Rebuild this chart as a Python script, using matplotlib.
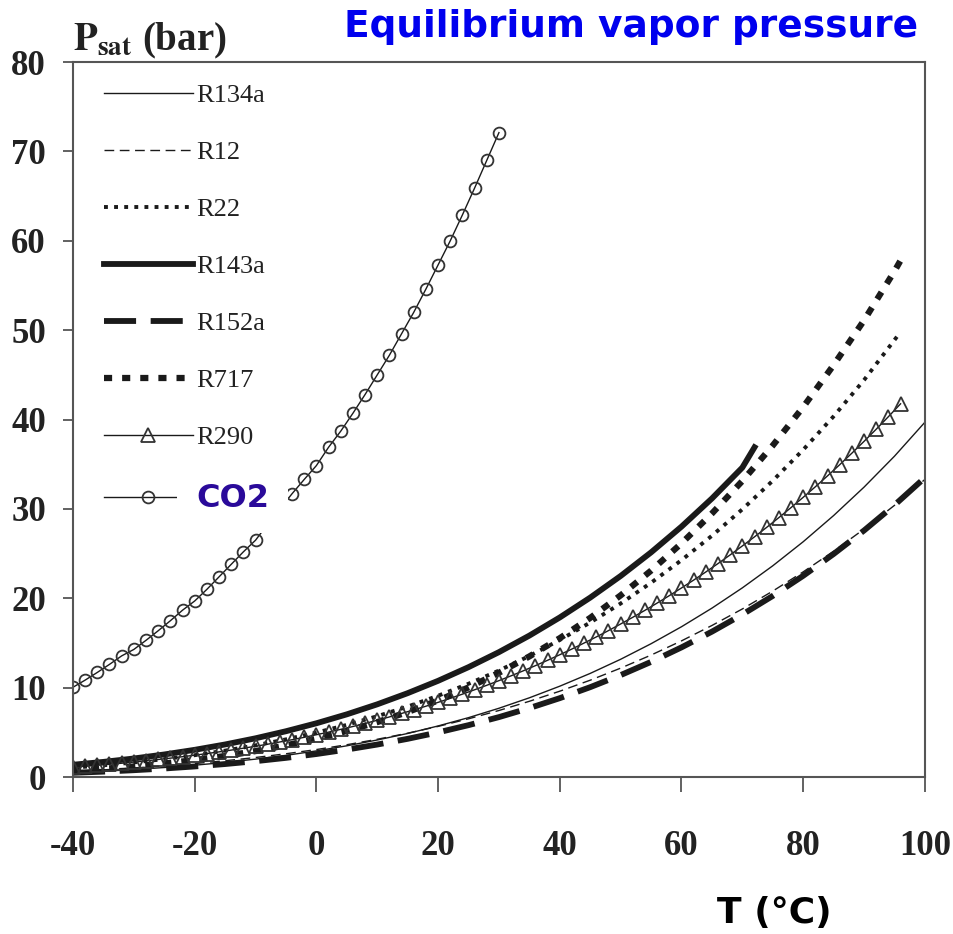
import matplotlib
matplotlib.use('Agg')
import matplotlib.pyplot as plt

# saturation pressure (bar)
T5 = [-40, -35, -30, -25, -20, -15, -10, -5, 0, 5, 10, 15, 20, 25, 30, 35, 40,
      45, 50, 55, 60, 65, 70, 75, 80, 85, 90, 95, 100]
r134a = [0.51, 0.66, 0.84, 1.07, 1.33, 1.64, 2.01, 2.43, 2.93, 3.50, 4.15, 4.88, 5.72,
         6.65, 7.70, 8.87, 10.17, 11.60, 13.18, 14.92, 16.82, 18.90, 21.17, 23.64,
         26.33, 29.26, 32.44, 35.9, 39.7]
r12 = [0.64, 0.81, 1.00, 1.24, 1.51, 1.83, 2.19, 2.61, 3.08, 3.62, 4.23, 4.91, 5.67,
       6.52, 7.45, 8.48, 9.61, 10.84, 12.19, 13.65, 15.24, 16.96, 18.81, 20.81, 22.96,
       25.27, 27.75, 30.4, 33.3]
r152a = [0.48, 0.61, 0.77, 0.96, 1.19, 1.46, 1.78, 2.15, 2.58, 3.08, 3.64, 4.28, 5.00,
         5.81, 6.71, 7.72, 8.83, 10.06, 11.41, 12.89, 14.51, 16.27, 18.19, 20.27, 22.52,
         24.96, 27.59, 30.43, 33.5]

T_r22 = [-40, -35, -30, -25, -20, -15, -10, -5, 0, 5, 10, 15, 20, 25, 30, 35, 40,
         45, 50, 55, 60, 65, 70, 75, 80, 85, 90, 95, 96]
r22 = [1.05, 1.32, 1.64, 2.01, 2.45, 2.96, 3.55, 4.22, 4.98, 5.84, 6.81, 7.89, 9.10,
       10.44, 11.92, 13.55, 15.34, 17.29, 19.42, 21.74, 24.27, 27.00, 29.96, 33.16,
       36.62, 40.36, 44.42, 48.9, 49.8]
r717 = [0.72, 0.93, 1.19, 1.52, 1.90, 2.36, 2.91, 3.55, 4.29, 5.16, 6.15, 7.28, 8.57,
        10.03, 11.67, 13.50, 15.54, 17.81, 20.33, 23.10, 26.15, 29.49, 33.13, 37.1,
        41.4, 46.1, 51.1, 56.6, 57.8]

T_r143a = [-40, -35, -30, -25, -20, -15, -10, -5, 0, 5, 10, 15, 20, 25, 30, 35, 40,
           45, 50, 55, 60, 65, 70, 72]
r143a = [1.38, 1.70, 2.08, 2.53, 3.05, 3.65, 4.34, 5.13, 6.02, 7.02, 8.14, 9.39, 10.77,
         12.30, 13.98, 15.83, 17.86, 20.08, 22.50, 25.14, 28.02, 31.17, 34.63, 36.9]

T_r290 = [-40, -38, -36, -34, -32, -30, -28, -26, -24, -22, -20, -18, -16, -14, -12,
          -10, -8, -6, -4, -2, 0, 2, 4, 6, 8, 10, 12, 14, 16, 18, 20, 22, 24, 26, 28,
          30, 32, 34, 36, 38, 40, 42, 44, 46, 48, 50, 52, 54, 56, 58, 60, 62, 64, 66,
          68, 70, 72, 74, 76, 78, 80, 82, 84, 86, 88, 90, 92, 94, 96]
r290 = [1.11, 1.21, 1.32, 1.43, 1.55, 1.68, 1.82, 1.97, 2.12, 2.28, 2.45, 2.63, 2.82,
        3.02, 3.23, 3.45, 3.68, 3.93, 4.18, 4.45, 4.74, 5.03, 5.34, 5.66, 6.00, 6.36,
        6.73, 7.12, 7.52, 7.93, 8.36, 8.81, 9.28, 9.77, 10.27, 10.79, 11.33, 11.89,
        12.47, 13.07, 13.69, 14.33, 15.0, 15.68, 16.39, 17.13, 17.88, 18.66, 19.47,
        20.3, 21.16, 22.04, 22.95, 23.89, 24.86, 25.86, 26.88, 27.94, 29.03, 30.15,
        31.3, 32.48, 33.7, 34.95, 36.24, 37.56, 38.92, 40.32, 41.76]

T_co2 = [-40, -38, -36, -34, -32, -30, -28, -26, -24, -22, -20, -18, -16, -14, -12,
         -10, -8, -6, -4, -2, 0, 2, 4, 6, 8, 10, 12, 14, 16, 18, 20, 22, 24, 26, 28, 30]
co2 = [10.05, 10.85, 11.71, 12.61, 13.56, 14.28, 15.30, 16.37, 17.49, 18.67, 19.70,
       21.0, 22.4, 23.8, 25.2, 26.5, 28.3, 30.0, 31.7, 33.3, 34.85, 36.9, 38.7, 40.7,
       42.8, 45.0, 47.2, 49.6, 52.0, 54.6, 57.3, 60.0, 62.9, 65.9, 69.0, 72.1]

x_ticks = [-40, -20, 0, 20, 40, 60, 80, 100]
y_ticks = [0, 10, 20, 30, 40, 50, 60, 70, 80]

plt.rcParams['mathtext.fontset'] = 'stix'
plt.rcParams['axes.unicode_minus'] = False

fig = plt.figure(figsize=(9.54, 9.34), dpi=100)
ax = fig.add_axes([0.0765, 0.168, 0.893, 0.7656])

ink = '#1a1a1a'
ax.plot(T5, r134a, color=ink, lw=1.0, label='R134a')
ax.plot(T5, r12, color=ink, lw=1.0, ls=(0, (7, 4)), label='R12')
ax.plot(T_r22, r22, color=ink, lw=2.8, ls=(0, (1, 1.6)), label='R22')
ax.plot(T_r143a, r143a, color=ink, lw=4.2, label='R143a')
ax.plot(T5, r152a, color=ink, lw=4.2, ls=(0, (5.5, 2.5)), label='R152a')
ax.plot(T_r22, r717, color=ink, lw=4.5, ls=(0, (1.3, 1.6)), label='R717')
ax.plot(T_r290, r290, color=ink, lw=1.0, marker='^', ms=10, mfc='none',
        mec='#333333', mew=1.3, label='R290')
ax.plot(T_co2, co2, color=ink, lw=1.0, marker='o', ms=8.5, mfc='none',
        mec='#333333', mew=1.3, label='CO2')

ax.set_xlim(-40, 100)
ax.set_ylim(0, 80)
ax.set_xticks(x_ticks)
ax.set_yticks(y_ticks)
for s in ax.spines.values():
    s.set_color('#555555')
    s.set_linewidth(1.5)
ax.tick_params(axis='x', direction='out', length=11, width=1.3, color='#555555',
               pad=27, labelsize=25)
ax.tick_params(axis='y', direction='out', length=7.5, width=1.3, color='#555555',
               pad=12, labelsize=25)
for lab in ax.get_xticklabels() + ax.get_yticklabels():
    lab.set_family('Liberation Serif')
    lab.set_fontweight('bold')
    lab.set_color('#222222')

leg = ax.legend(loc='upper left', bbox_to_anchor=(0.008, 1.003), frameon=False,
                handlelength=3.4, handletextpad=0.1, labelspacing=1.27,
                numpoints=1, prop={'family': 'Liberation Serif', 'size': 19})
for t in leg.get_texts():
    t.set_color('#222222')
co2_txt = leg.get_texts()[-1]
co2_txt.set_family('DejaVu Sans')
co2_txt.set_fontweight('bold')
co2_txt.set_fontsize(23)
co2_txt.set_color('#2a0a9a')
co2_txt.set_bbox(dict(facecolor='white', edgecolor='none', boxstyle='square,pad=0.6'))

fig.text(73 / 954, 1 - 50 / 934, r'$\mathbf{P}_{\mathbf{sat}}$ (bar)',
         family='Liberation Serif', fontweight='bold', fontsize=28,
         color='#222222', ha='left', va='baseline')
fig.text(918 / 954, 1 - 27 / 934, 'Equilibrium vapor pressure', family='DejaVu Sans',
         fontweight='bold', fontsize=27, color='#0000ee', ha='right', va='center')
fig.text(774 / 954, 1 - 913 / 934, 'T (°C)', family='DejaVu Sans',
         fontweight='bold', fontsize=26, color='black', ha='center', va='center')

fig.savefig('out.png', dpi=100, facecolor='white')
